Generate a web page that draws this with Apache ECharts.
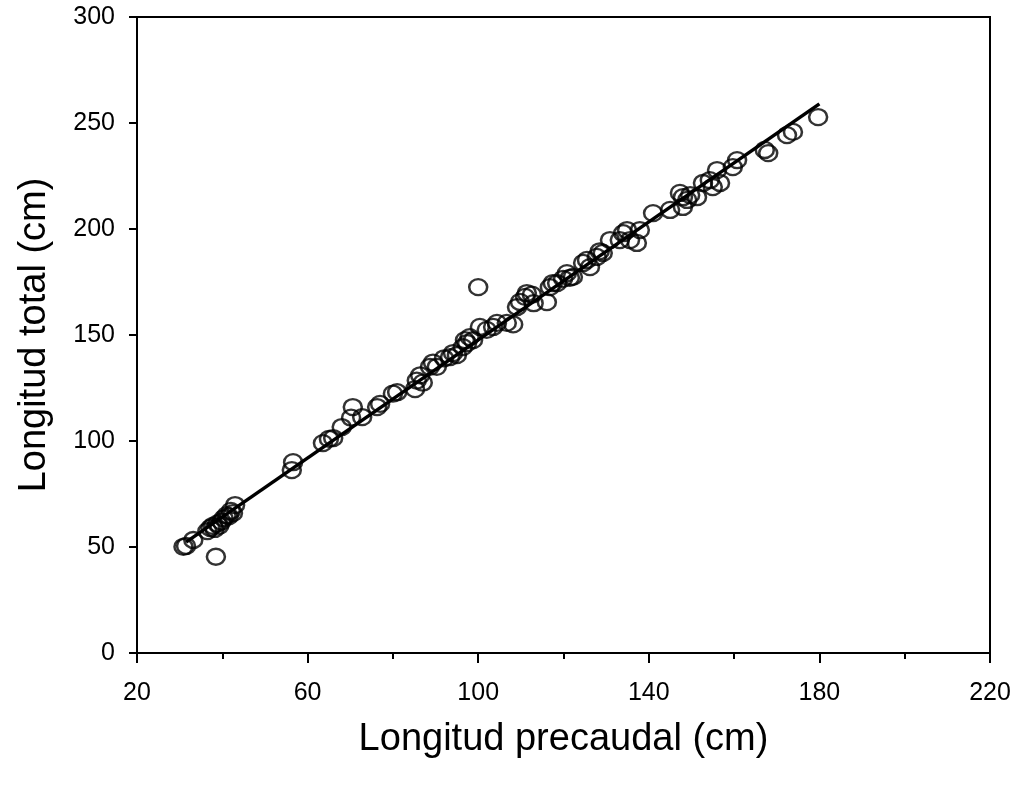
<!DOCTYPE html>
<html>
<head>
<meta charset="utf-8">
<script src="https://cdn.jsdelivr.net/npm/echarts@6/dist/echarts.min.js"></script>
<style>
  html, body { margin: 0; padding: 0; background: #fff; }
  #chart { width: 1018px; height: 785px; }
</style>
</head>
<body>
<div id="chart"></div>
<script>
// Observed data: [Longitud precaudal (cm), Longitud total (cm)]
const observations = [
  [30.9, 50.1], [31.5, 50.5], [33.2, 53.3], [38.5, 45.4],
  [36.5, 57.5], [37.2, 59], [37.8, 60], [38.2, 58.5], [38.8, 61], [39.3, 60],
  [39.8, 62], [40.3, 63.5], [41, 65], [41.5, 64.5], [42, 67], [42.5, 66], [43, 69.8],
  [56.3, 86.3], [56.6, 90],
  [63.6, 99], [65, 101], [66, 101.4], [68, 106.6], [70.2, 111], [70.6, 116], [72.8, 111.3],
  [76.3, 116], [77, 117.5], [80, 122.3], [81, 123],
  [85.2, 124.5], [85.6, 128.5], [86.4, 131], [87, 127.5],
  [88.7, 135], [89.4, 137], [90.3, 135],
  [92, 139], [93.4, 139.6], [94.1, 141.5], [95, 140.5],
  [96.4, 144.3], [96.9, 147.6], [97.4, 146.2], [98, 149], [98.8, 147.6],
  [100, 172.6],
  [100.4, 153.8], [102, 152.4], [103.5, 153.8], [104.4, 155.7], [106.7, 155.7], [108.2, 155],
  [109.1, 163.2], [109.8, 165.6], [111, 168], [111.4, 169.8], [112.6, 169], [113, 165], [116.1, 165.5],
  [116.8, 172.6], [117.5, 174.5], [118.5, 174.5], [119.9, 176.5], [120.8, 179.2], [121.5, 177], [122.2, 177.4],
  [124.6, 184], [125.5, 185.4], [126.2, 182], [127.8, 186.8], [129.2, 188.7], [128.5, 189.5], [130.9, 194.8],
  [133.2, 194.8], [134, 198], [134.9, 199.5], [135.6, 194.8], [137.2, 193.4], [137.9, 199.5],
  [141, 207.5], [145, 209],
  [147.3, 217], [148, 215], [149, 213.7], [149.7, 216], [151.3, 215], [148, 210.4],
  [152.7, 221.7], [154.3, 223], [155, 219.8], [156.7, 221.7], [156, 227.8],
  [159.7, 229.2], [160.7, 232.5],
  [167.2, 237.3], [168, 235.8], [172.4, 244.3], [173.8, 245.8], [179.7, 252.8]
];

// Fitted regression line endpoints
const fitLine = [[31.5, 52.3], [180, 259]];

const xTitle = 'Longitud precaudal (cm)';
const yTitle = 'Longitud total (cm)';

const FONT = '"Liberation Sans", Arial, sans-serif';

const chart = echarts.init(document.getElementById('chart'));
chart.setOption({
  animation: false,
  backgroundColor: '#fff',
  grid: {
    left: 137, top: 17, right: 28, bottom: 132,
    show: true, borderColor: '#000', borderWidth: 2, backgroundColor: 'transparent'
  },
  xAxis: {
    type: 'value', min: 20, max: 220, interval: 40,
    name: xTitle, nameLocation: 'middle', nameGap: 68,
    nameTextStyle: { fontFamily: FONT, fontSize: 38, color: '#000' },
    axisLine: { show: true, onZero: false, lineStyle: { color: '#000', width: 2 } },
    axisTick: { show: true, inside: false, length: 10, lineStyle: { color: '#000', width: 2 } },
    minorTick: { show: true, splitNumber: 2, length: 6, lineStyle: { color: '#000', width: 2 } },
    splitLine: { show: false },
    axisLabel: { fontFamily: FONT, fontSize: 25, color: '#000', margin: 28 }
  },
  yAxis: {
    type: 'value', min: 0, max: 300, interval: 50,
    name: yTitle, nameLocation: 'middle', nameGap: 83,
    nameTextStyle: { fontFamily: FONT, fontSize: 38, color: '#000' },
    axisLine: { show: true, onZero: false, lineStyle: { color: '#000', width: 2 } },
    axisTick: { show: true, inside: false, length: 8, lineStyle: { color: '#000', width: 2 } },
    splitLine: { show: false },
    axisLabel: { fontFamily: FONT, fontSize: 25, color: '#000', margin: 22 }
  },
  series: [
    {
      type: 'line',
      data: fitLine,
      showSymbol: false,
      symbol: 'none',
      lineStyle: { color: '#000', width: 3.5 },
      z: 2
    },
    {
      type: 'scatter',
      data: observations,
      symbol: 'circle',
      symbolSize: [18, 16],
      itemStyle: { color: 'rgba(0,0,0,0)', borderColor: '#000', borderWidth: 2.4 },
      z: 3
    }
  ]
});
</script>
</body>
</html>
